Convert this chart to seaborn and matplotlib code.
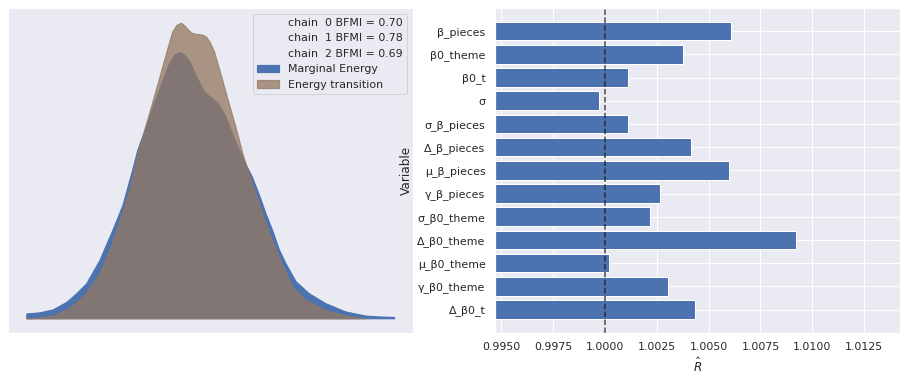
import numpy as np
import pandas as pd
import matplotlib
matplotlib.use("Agg")
import matplotlib.pyplot as plt
import seaborn as sns

# ─────────────────────────────────────────────
# DATA
# ─────────────────────────────────────────────
# marginal energy density (energy - mean)
marginal_x = [-18.14, -16.67, -15.19, -13.70, -12.67, -11.48, -10.00, -8.52, -7.44,
              -6.33, -5.78, -5.19, -4.08, -3.00, -2.44, -2.00, -1.56, -1.11, -0.56,
              0.00, 0.74, 1.48, 2.00, 2.59, 3.33, 3.89, 4.44, 5.19, 6.30, 7.03, 7.78,
              8.52, 9.26, 10.00, 10.74, 11.86, 13.33, 15.19, 17.41, 19.63, 21.11, 22.86]
marginal_d = [0.0016, 0.0020, 0.0030, 0.0055, 0.0082, 0.0118, 0.0197, 0.0302, 0.0383,
              0.0505, 0.0570, 0.0620, 0.0716, 0.0806, 0.0850, 0.0877, 0.0896, 0.0902, 0.0894,
              0.0874, 0.0823, 0.0779, 0.0759, 0.0747, 0.0724, 0.0695, 0.0654, 0.0597, 0.0522,
              0.0478, 0.0419, 0.0356, 0.0299, 0.0234, 0.0187, 0.0126, 0.0085, 0.0051, 0.0023,
              0.0009, 0.0006, 0.0004]

# energy transition density (diff of energy)
transition_x = [-18.14, -16.67, -15.19, -13.33, -11.48, -10.00, -8.89, -7.78, -6.67,
                -5.72, -4.44, -3.33, -2.56, -1.89, -1.44, -0.92, -0.56, -0.11, 0.33,
                0.89, 1.48, 1.89, 2.28, 2.78, 3.52, 4.26, 5.19, 6.00, 7.03, 7.78, 8.52,
                9.26, 10.00, 11.48, 12.97, 15.19, 17.41, 19.52]
transition_d = [0.0000, 0.0002, 0.0009, 0.0034, 0.0085, 0.0152, 0.0231, 0.0329, 0.0434,
                0.0563, 0.0698, 0.0817, 0.0901, 0.0972, 0.0994, 0.1002, 0.0994, 0.0979, 0.0967,
                0.0964, 0.0962, 0.0955, 0.0938, 0.0905, 0.0827, 0.0746, 0.0647, 0.0553, 0.0457,
                0.0390, 0.0321, 0.0265, 0.0208, 0.0107, 0.0062, 0.0028, 0.0009, 0.0000]

chains = [0, 1, 2]
bfmi = [0.70, 0.78, 0.69]

variables = ["β_pieces", "β0_theme", "β0_t", "σ", "σ_β_pieces", "Δ_β_pieces",
             "μ_β_pieces", "γ_β_pieces", "σ_β0_theme", "Δ_β0_theme", "μ_β0_theme",
             "γ_β0_theme", "Δ_β0_t"]
rhat = [1.00609, 1.00377, 1.00112, 0.99970, 1.00112, 1.00416, 1.00599,
        1.00266, 1.00218, 1.00923, 1.00020, 1.00305, 1.00435]


# ─────────────────────────────────────────────
# PLOT
# ─────────────────────────────────────────────
def main():
    sns.set_theme(style="darkgrid")
    W, H = 907, 382
    fig, (ax1, ax2) = plt.subplots(1, 2, figsize=(W / 72, H / 72), dpi=72)
    ax1.set_position([8 / W, 1 - 333 / H, 404.5 / W, 325 / H])
    ax2.set_position([495 / W, 1 - 332.7 / H, 405 / W, 324.7 / H])

    # ── Energy plot ──────────────────────────
    ax1.fill_between(marginal_x, marginal_d, color="C0", alpha=1,
                     linewidth=1.2, label="Marginal Energy")
    ax1.fill_between(transition_x, transition_d, color="C5", alpha=0.75,
                     linewidth=1.2, label="Energy transition")
    for c, b in zip(chains, bfmi):
        ax1.plot([], [], alpha=0, label=f"chain {c:>2} BFMI = {b:.2f}")
    handles, labels = ax1.get_legend_handles_labels()
    order = [i for i, l in enumerate(labels) if l.startswith("chain")] + \
            [i for i, l in enumerate(labels) if not l.startswith("chain")]
    ax1.legend([handles[i] for i in order], [labels[i] for i in order],
               loc="upper right", fontsize=11)
    ax1.set_xticks([])
    ax1.set_yticks([])

    # ── R-hat bars ───────────────────────────
    df = pd.DataFrame({"Variable": variables, "rhat": rhat})
    sns.barplot(data=df, x="rhat", y="Variable", color="C0", saturation=1, ax=ax2)
    ax2.yaxis.grid(True)
    ax2.axvline(1.0, color="k", linestyle="--", linewidth=1.5, alpha=0.8)
    ax2.set_xlim(min(rhat) - 0.005, max(rhat) + 0.005)
    ax2.set_ylim(len(variables), -1.0)
    ax2.set_xlabel(r"$\hat{R}$")
    ax2.set_ylabel("Variable")

    fig.savefig("out.png", dpi=72)
    plt.close(fig)


if __name__ == "__main__":
    main()
